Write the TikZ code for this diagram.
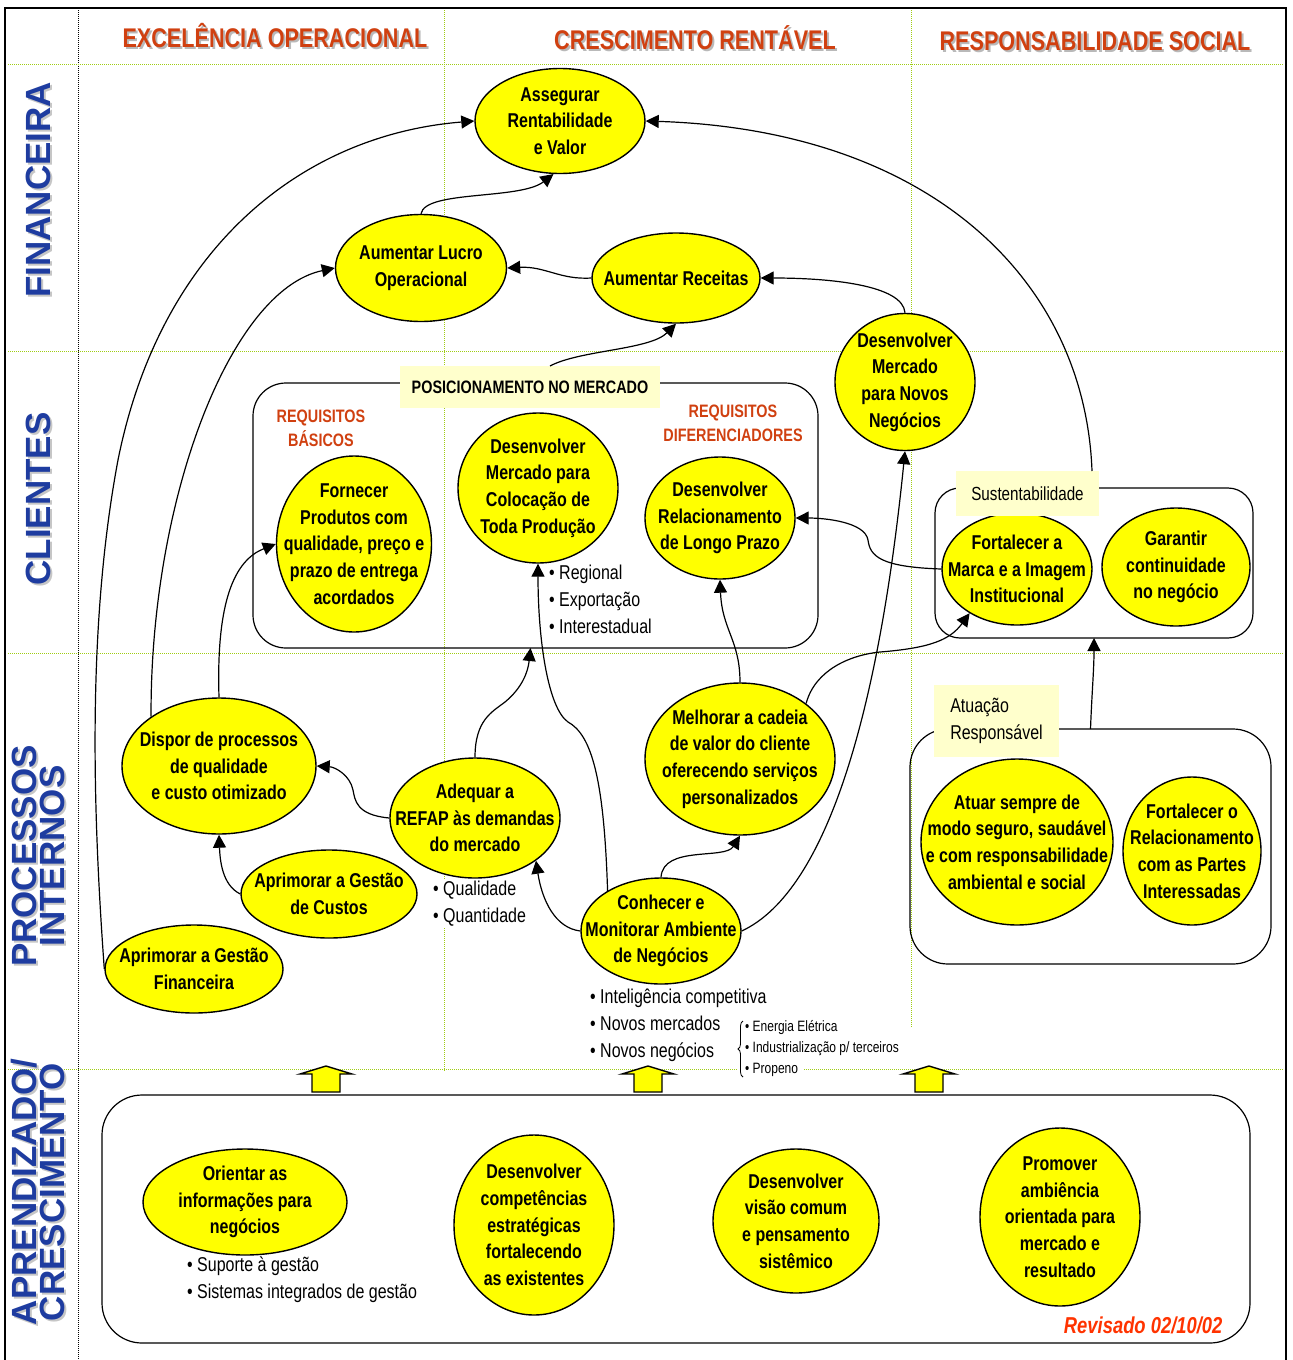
\documentclass[tikz,border=0pt]{standalone}
\usepackage{fontspec}
\setmainfont{Liberation Sans}[FakeStretch=0.8]
\newfontfamily\widefont{Liberation Sans}
\usetikzlibrary{shapes.geometric,arrows.meta,decorations.pathreplacing}

\definecolor{goalyellow}{RGB}{255,255,0}
\definecolor{tagyellow}{RGB}{255,255,204}
\definecolor{hdrred}{RGB}{208,64,16}
\definecolor{revred}{RGB}{255,51,0}
\definecolor{rowblue}{RGB}{30,60,160}
\definecolor{gridgreen}{RGB}{160,205,20}

\tikzset{
  goal/.style={ellipse,draw,fill=goalyellow,line width=1.4pt,inner sep=0pt},
  goaltxt/.style={align=center,inner sep=0pt,font=\fontsize{20}{26.7}\selectfont\bfseries},
  grpbox/.style={draw,line width=1.2pt,inner sep=0pt,outer sep=0pt},
  tag/.style={fill=tagyellow,inner sep=0pt,outer sep=0pt,font=\fontsize{20}{26.5}\selectfont},
  hdr/.style={anchor=base,font=\fontsize{27}{30}\selectfont\bfseries},
  rowlbl/.style={rotate=90,align=center,font=\widefont\fontsize{35}{28}\selectfont\bfseries},
  bullets/.style={anchor=west,align=left,inner sep=1pt,font=\fontsize{20}{27}\selectfont},
  link/.style={->,line width=1.2pt},
  gridline/.style={gridgreen,densely dotted,line width=1pt}
}

\begin{document}
\begin{tikzpicture}[x=1pt,y=-1pt,>={Triangle[length=13pt,width=13pt]}]
  \useasboundingbox (0,0) rectangle (1293,1360);
  %\draw[gray!50] (0,0) grid[step=100] (1293,1360);
  % grade de perspectivas
  \draw[densely dotted,line width=1pt] (78,8) -- (78,1360);
  \draw[gridline] (8,64) -- (1284,64) (8,351) -- (1284,351) (8,653) -- (1284,653)
    (8,1069) -- (737,1069) (804,1069) -- (1284,1069);
  \draw[gridline] (444,8) -- (444,1072) (911,8) -- (911,1027);

  % temas
  \foreach \n/\x/\y/\t in {hexc/275/47/EXCELÊNCIA OPERACIONAL,
      hcre/695/49.5/CRESCIMENTO RENTÁVEL, hres/1095/50.5/RESPONSABILIDADE SOCIAL}{
    \node[hdr,gray!55] (\n-s) at (\x+2,\y+2) {\t};
    \node[hdr,hdrred] (\n) at (\x,\y) {\t};
  }
  % perspectivas
  \foreach \n/\y/\t in {rfin/190/FINANCEIRA, rcli/499/CLIENTES,
      rproc/856/{PROCESSOS\\INTERNOS}, rlearn/1192/{APRENDIZADO/\\CRESCIMENTO}}{
    \node[rowlbl,gray!45] (\n-s) at (40,\y+2) {\t};
    \node[rowlbl,rowblue] (\n) at (38,\y) {\t};
  }

  % grupos
  \node[grpbox,rounded corners=33pt,minimum width=565pt,minimum height=265pt] (posbox) at (535.5,515.5) {};
  \node[grpbox,rounded corners=25pt,minimum width=318pt,minimum height=150pt] (sustbox) at (1094,563) {};
  \node[grpbox,rounded corners=38pt,minimum width=361pt,minimum height=235pt] (atuabox) at (1090.5,846.5) {};
  \node[grpbox,rounded corners=40pt,minimum width=1148pt,minimum height=248pt] (learnbox) at (676,1219) {};

  % objetivos
  \foreach \n/\x/\y/\w/\h/\t in {
      asseg/560/121/170/105/{Assegurar\\Rentabilidade\\e Valor},
      lucro/421/268/171/107/{Aumentar Lucro\\Operacional},
      rec/676/278/168/90/{Aumentar Receitas},
      dmnn/905/382/140/137/{Desenvolver\\Mercado\\para Novos\\Negócios},
      forn/354/544/155/176/{Fornecer\\Produtos com\\qualidade, preço e\\prazo de entrega\\acordados},
      coloc/538/488/160/150/{Desenvolver\\Mercado para\\Colocação de\\Toda Produção},
      longo/720/518/150/122/{Desenvolver\\Relacionamento\\de Longo Prazo},
      marca/1017/569/150/112/{Fortalecer a\\Marca e a Imagem\\Institucional},
      garant/1176/567/148/118/{Garantir\\continuidade\\no negócio},
      dispor/219/766/194/136/{Dispor de processos\\de qualidade\\e custo otimizado},
      adeq/475/818/170/120/{Adequar a\\REFAP às demandas\\do mercado},
      melh/740/759/190/152/{Melhorar a cadeia\\de valor do cliente\\oferecendo serviços\\personalizados},
      custos/329/894/176/88/{Aprimorar a Gestão\\de Custos},
      fin/194/969/178/88/{Aprimorar a Gestão\\Financeira},
      con/661/931/160/106/{Conhecer e\\Monitorar Ambiente\\de Negócios},
      atuar/1017/842/192/166/{Atuar sempre de\\modo seguro, saudável\\e com responsabilidade\\ambiental e social},
      partes/1192/851/138/148/{Fortalecer o\\Relacionamento\\com as Partes\\Interessadas},
      orient/245/1202/204/106/{Orientar as\\informações para\\negócios},
      compet/534/1225/160/180/{Desenvolver\\competências\\estratégicas\\fortalecendo\\as existentes},
      visao/796/1221/166/144/{Desenvolver\\visão comum\\e pensamento\\sistêmico},
      promo/1060/1217/160/178/{Promover\\ambiência\\orientada para\\mercado e\\resultado}}{
    \node[goal,minimum width=\w pt,minimum height=\h pt] (\n) at (\x,\y) {};
    \node[goaltxt] (\n-t) at (\n.center) {\t};
  }

  % rotulos dos grupos
  \node[tag,minimum width=260pt,minimum height=42pt,font=\fontsize{18}{20}\selectfont\bfseries] (poslbl) at (530,387) {POSICIONAMENTO NO MERCADO};
  \node[tag,minimum width=143pt,minimum height=45pt,font=\fontsize{19}{22}\selectfont] (sustlbl) at (1027.5,493.5) {Sustentabilidade};
  \node[tag,minimum width=125pt,minimum height=72pt,align=left] (atualbl) at (996.5,721) {Atuação\\Responsável};
  \node[font=\fontsize{18}{24}\selectfont\bfseries,text=hdrred,align=center] (reqb) at (321,428) {REQUISITOS\\BÁSICOS};
  \node[font=\fontsize{18}{24}\selectfont\bfseries,text=hdrred,align=center] (reqd) at (733,423) {REQUISITOS\\DIFERENCIADORES};

  % relacoes de causa e efeito
  \draw[link] (fin.west) .. controls (92,800) and (88,620) .. (118,460)
    .. controls (160,250) and (300,135) .. (asseg.west);
  \draw[link] (dispor.144) .. controls (150,500) and (230,290) .. (lucro.west);
  \draw[link] (dispor.north) .. controls (216,600) and (235,560) .. (forn.west);
  \draw[link] (custos.west) .. controls (222,885) and (220,860) .. (dispor.south);
  \draw[link] (lucro.north) .. controls (425,190) and (520,200) .. (asseg.263);
  \draw[link] (rec.west) .. controls (560,280) and (545,266) .. (lucro.east);
  \draw[link] (dmnn.north) .. controls (903,285) and (830,278) .. (rec.east);
  \draw[link] ([xshift=-7pt]sustlbl.north east) .. controls (1085,280) and (930,130) .. (asseg.east);
  \draw[link] ([xshift=20pt]poslbl.north) .. controls (580,350) and (650,350) .. (rec.south);
  \draw[link] (con.143) .. controls (604,780) and (592,735) .. (568,722)
    .. controls (548,708) and (538,640) .. (coloc.south);
  \draw[link] (adeq.north) .. controls (475,720) and (492,712) .. (505,702)
    .. controls (522,688) and (528,672) .. ([xshift=-5pt]posbox.south);
  \draw[link] (melh.north) .. controls (740,640) and (722,630) .. (longo.south);
  \draw[link] (marca.west) .. controls (880,567) and (870,556) .. (868,540)
    .. controls (865,522) and (825,518) .. (longo.east);
  \draw[link] (con.east) .. controls (830,890) and (880,700) .. (dmnn.south);
  \draw[link] (con.north) .. controls (663,845) and (725,860) .. (melh.south);
  \draw[link] (con.west) .. controls (555,928) and (542,900) .. (adeq.-35);
  \draw[link] (adeq.west) .. controls (356,815) and (355,800) .. (353,790)
    .. controls (350,775) and (335,767) .. (dispor.east);
  \draw[link] (melh.40) .. controls (815,670) and (850,655) .. (880,652)
    .. controls (930,648) and (950,640) .. (marca.223);
  \draw[link] (atuabox.north) .. controls (1092,690) and (1094,670) .. (sustbox.south);

  % listas
  \node[bullets] (mktlist) at (548,599) {• Regional\\• Exportação\\• Interestadual};
  \node[bullets,fill=white] (qualist) at (432,904) {• Qualidade\\• Quantidade};
  \node[bullets] (intlist) at (589,1025) {• Inteligência competitiva\\• Novos mercados\\• Novos negócios};
  \node[bullets,font=\fontsize{15}{21}\selectfont] (prodlist) at (744,1049) {• Energia Elétrica\\• Industrialização p/ terceiros\\• Propeno};
  \draw[line width=0.8pt,decorate,decoration={brace,amplitude=5pt}] (743,1077) -- (743,1021);
  \node[bullets] (suplist) at (186,1280) {• Suporte à gestão\\• Sistemas integrados de gestão};

  % setas de sustentacao
  \foreach \x in {326,648,929}
    \draw[line width=1.4pt,fill=goalyellow] (\x-14,1092) -- (\x-14,1074) -- (\x-26,1074)
      -- (\x,1066) -- (\x+26,1074) -- (\x+14,1074) -- (\x+14,1092) -- cycle;

  \node[font=\fontsize{23}{25}\selectfont\bfseries\itshape,text=revred,anchor=base east] (rev) at (1226,1333) {Revisado 02/10/02};

  % moldura
  \draw[line width=2.5pt] (5,1380) -- (5,8) -- (1286,8) -- (1286,1380);
\end{tikzpicture}
\end{document}
